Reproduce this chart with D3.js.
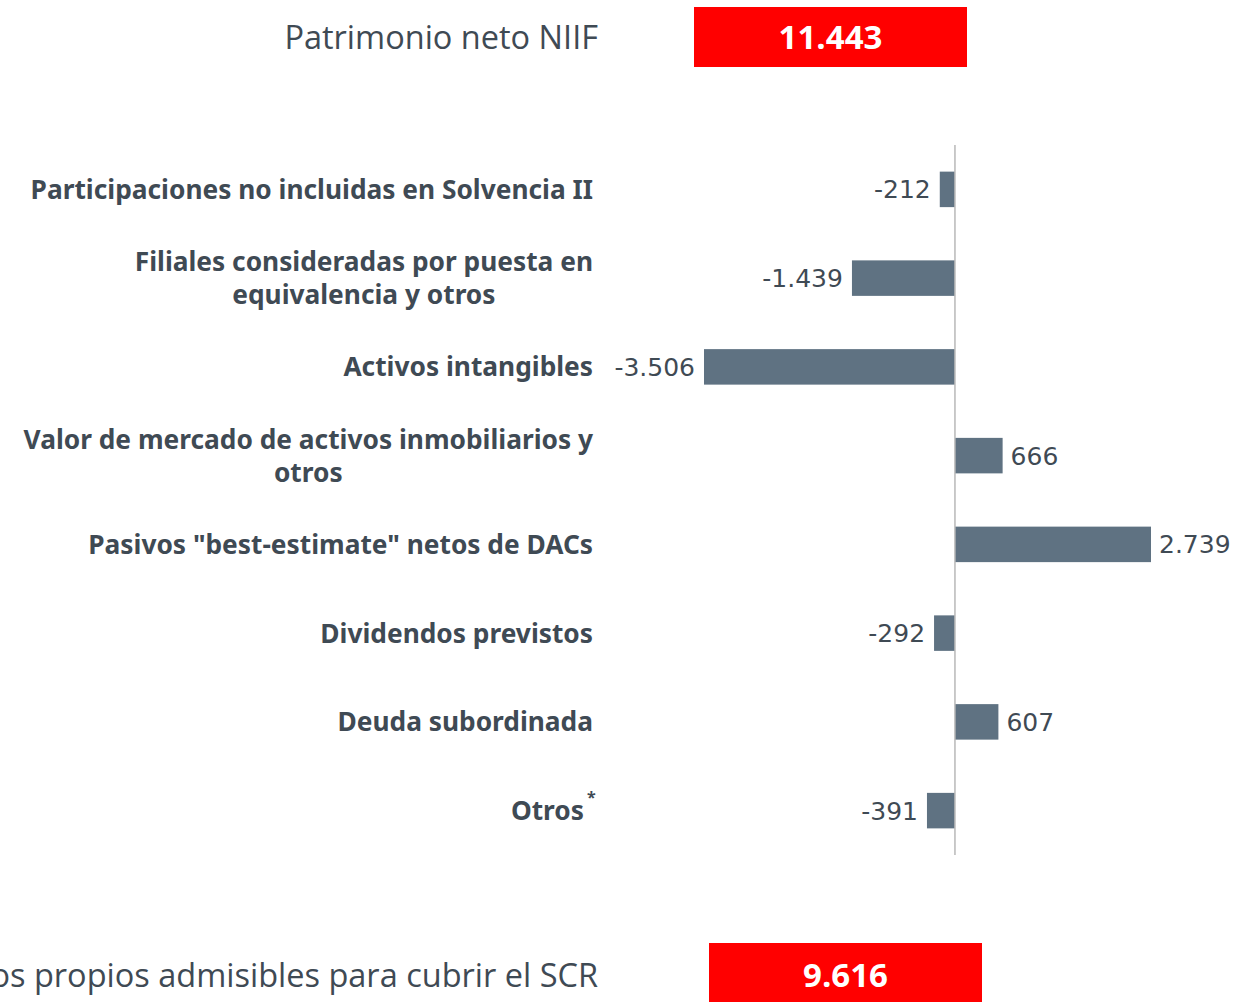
<!DOCTYPE html>
<html lang="es">
<head>
  <meta charset="UTF-8">
  <title>Patrimonio neto NIIF a fondos propios</title>
</head>
<style>
  body {
    margin: 0;
    background: #fff;
  }
  svg {
    display: block;
  }
  .label {
    font-family: "Noto Sans", "DejaVu Sans", sans-serif;
    font-weight: bold;
    font-size: 26.3px;
    fill: #3f4a54;
  }
  .value {
    font-family: "DejaVu Sans", sans-serif;
    font-size: 25px;
    fill: #3f4a54;
  }
  .head {
    font-family: "Open Sans", sans-serif;
    font-size: 32.5px;
    fill: #3f4a54;
  }
  .box-text {
    font-family: "Open Sans", sans-serif;
    font-weight: bold;
    font-size: 33px;
    fill: #fff;
  }
</style>
<body>
<svg width="1238" height="1002"></svg>
<script src="https://cdn.jsdelivr.net/npm/d3@7"></script>
<script>
  // partidas de ajuste (millones de euros)
  const categories = [
    ['Participaciones no incluidas en Solvencia II'],
    ['Filiales consideradas por puesta en', 'equivalencia y otros'],
    ['Activos intangibles'],
    ['Valor de mercado de activos inmobiliarios y', 'otros'],
    ['Pasivos "best-estimate" netos de DACs'],
    ['Dividendos previstos'],
    ['Deuda subordinada'],
    ['Otros']
  ];
  const values = [-212, -1439, -3506, 666, 2739, -292, 607, -391];
  const valueLabels = ['-212', '-1.439', '-3.506', '666', '2.739', '-292', '607', '-391'];

  const totals = [
    {name: 'Patrimonio neto NIIF', text: '11.443'},
    {name: 'Fondos propios admisibles para cubrir el SCR', text: '9.616'}
  ];

  const svg = d3.select('svg');
  const barColor = '#5f7282';
  const labelRight = 593;

  const keys = categories.map((c, i) => i);

  const x = d3.scaleLinear()
    .domain([d3.min(values), d3.max(values)])
    .range([704, 1151]);

  const y = d3.scaleBand()
    .domain(keys)
    .range([145, 855])
    .paddingInner(0.6)
    .paddingOuter(0.3);

  // bars
  svg.append('g').selectAll('rect')
    .data(values)
    .enter().append('rect')
    .attr('x', d => x(Math.min(0, d)))
    .attr('y', (d, i) => y(i))
    .attr('width', d => Math.abs(x(d) - x(0)))
    .attr('height', y.bandwidth())
    .style('fill', barColor);

  // zero line
  svg.append('line')
    .attr('x1', x(0)).attr('x2', x(0))
    .attr('y1', 145).attr('y2', 855)
    .style('stroke', '#b8b8b8')
    .style('stroke-width', 1.5);

  // value labels
  svg.append('g').selectAll('text')
    .data(values)
    .enter().append('text')
    .attr('class', 'value')
    .attr('x', d => d < 0 ? x(d) - 9 : x(d) + 8)
    .attr('y', (d, i) => y(i) + y.bandwidth() / 2)
    .attr('dy', '0.36em')
    .attr('text-anchor', d => d < 0 ? 'end' : 'start')
    .text((d, i) => valueLabels[i]);

  // category labels, lines centred, block aligned right
  const lineH = 33;
  const labelG = svg.append('g');
  categories.forEach((lines, i) => {
    const cy = y(i) + y.bandwidth() / 2;
    const t = labelG.append('text').attr('class', 'label');
    const spans = lines.map((l, j) => t.append('tspan')
      .attr('y', cy + (j - (lines.length - 1) / 2) * lineH)
      .attr('dy', '0.36em')
      .text(l));
    const w = d3.max(spans, s => s.node().getComputedTextLength());
    if (lines.length > 1) {
      t.attr('text-anchor', 'middle');
      spans.forEach(s => s.attr('x', labelRight - w / 2));
    } else {
      t.attr('text-anchor', 'end');
      spans.forEach(s => s.attr('x', labelRight));
    }
    if (lines[0] === 'Otros') {
      spans[0].attr('x', labelRight - 9);
      labelG.append('text')
        .attr('class', 'label')
        .attr('x', labelRight - 6)
        .attr('y', cy - 8)
        .style('font-size', '16px')
        .text('*');
    }
  });

  // total boxes
  const boxes = [
    {x: 694, y: 7, textY: 37},
    {x: 709, y: 943, textY: 975}
  ];
  totals.forEach((d, i) => {
    const b = boxes[i];
    svg.append('rect')
      .attr('x', b.x).attr('y', b.y)
      .attr('width', 273).attr('height', 60)
      .style('fill', '#ff0000');
    svg.append('text')
      .attr('class', 'box-text')
      .attr('x', b.x + 136.5)
      .attr('y', b.textY)
      .attr('dy', '0.36em')
      .attr('text-anchor', 'middle')
      .text(d.text);
    svg.append('text')
      .attr('class', 'head')
      .attr('x', 598)
      .attr('y', b.textY)
      .attr('dy', '0.36em')
      .attr('text-anchor', 'end')
      .text(d.name);
  });
</script>
</body>
</html>
